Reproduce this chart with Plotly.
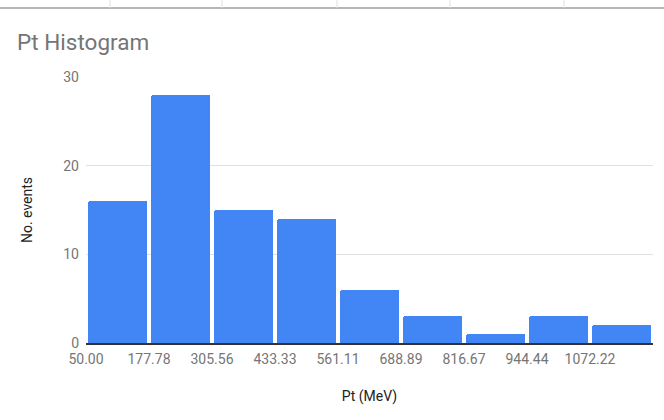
import plotly.graph_objects as go

bin_edges = [50.00, 177.78, 305.56, 433.33, 561.11, 688.89, 816.67, 944.44, 1072.22, 1200.00]
counts = [16, 28, 15, 14, 6, 3, 1, 3, 2]
tick_labels = ["50.00", "177.78", "305.56", "433.33", "561.11", "688.89", "816.67", "944.44", "1072.22"]
y_ticks = [0, 10, 20, 30]

centers = [(bin_edges[i] + bin_edges[i + 1]) / 2 for i in range(len(counts))]
bw = bin_edges[1] - bin_edges[0]

fig = go.Figure()
fig.add_trace(go.Bar(
    x=centers, y=counts, width=bw * 0.94,
    marker=dict(color="#4285F4", line=dict(width=0), cornerradius=2),
    hoverinfo="x+y",
))

W, H = 664, 420
ml, mr, mt, mb = 86, 11, 77, 77
pw = W - ml - mr
ph = H - mt - mb

shapes = []
# spreadsheet strip at the top
y_line = (H - mb - 8) / ph
y_top = (H - mb) / ph
shapes.append(dict(type="line", xref="paper", yref="paper", x0=-ml / pw, x1=(W - ml) / pw,
                   y0=y_line, y1=y_line, line=dict(color="#9e9e9e", width=1.5)))
for px in [110, 222, 337, 450, 564]:
    xp = (px - ml) / pw
    shapes.append(dict(type="line", xref="paper", yref="paper", x0=xp, x1=xp,
                       y0=y_line, y1=y_top + 0.01, line=dict(color="#e0e0e0", width=1)))

fig.update_layout(
    width=W, height=H,
    margin=dict(l=ml, r=mr, t=mt, b=mb),
    paper_bgcolor="white", plot_bgcolor="white",
    font=dict(family="Roboto", color="#444"),
    title=dict(text="Pt Histogram", x=17 / W, xanchor="left", y=1 - 42 / H, yanchor="middle",
               font=dict(family="Roboto", size=22.5, color="#757575")),
    showlegend=False,
    bargap=0,
    shapes=shapes,
    xaxis=dict(
        range=[bin_edges[0], bin_edges[-1]],
        tickmode="array", tickvals=bin_edges[:-1], ticktext=tick_labels,
        showgrid=False, zeroline=False,
        showline=True, linecolor="#333333", linewidth=1.5,
        ticks="", ticklabelstandoff=2,
        tickfont=dict(family="Roboto", size=14, color="#757575"),
        title=dict(text="Pt (MeV)", font=dict(family="Roboto", size=14, color="#222222"), standoff=26),
    ),
    yaxis=dict(
        range=[0, 30],
        tickmode="array", tickvals=y_ticks,
        showgrid=True, gridcolor="#e0e0e0", gridwidth=1,
        zeroline=False, showline=False,
        ticks="", ticklabelstandoff=6,
        tickfont=dict(family="Roboto", size=14, color="#757575"),
        title=dict(text="No. events", font=dict(family="Roboto", size=14, color="#222222"), standoff=27),
    ),
)

fig.write_html("out.html", config={"displayModeBar": False},
               post_script="document.body.style.margin='0';document.body.style.padding='0';")
